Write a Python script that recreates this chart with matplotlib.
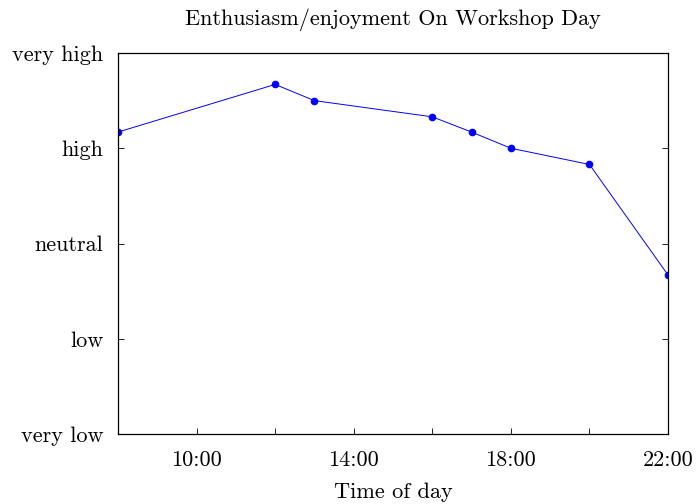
import numpy as np
import matplotlib
matplotlib.use("Agg")
import matplotlib.pyplot as plt

# hour of day vs how the day felt (0 = very low ... 4 = very high)
hours = [8, 12, 13, 16, 17, 18, 20, 22]
mood = [3.17, 3.67, 3.5, 3.33, 3.17, 3.0, 2.83, 1.67]

mood_levels = ["very low", "low", "neutral", "high", "very high"]
hour_ticks = [10, 12, 14, 16, 18, 20, 22]
hour_labels = ["10:00", "", "14:00", "", "18:00", "", "22:00"]

plt.rcParams["font.family"] = ["cmr10", "DejaVu Serif"]
plt.rcParams["axes.formatter.use_mathtext"] = True

fig = plt.figure(figsize=(6.96, 5.04), dpi=100)
ax = fig.add_axes([118 / 696, 1 - 434 / 504, 550 / 696, 381 / 504])

ax.plot(hours, mood, color="blue", lw=0.7, marker="o", ms=4.5)

ax.set_xlim(8, 22)
ax.set_ylim(0, 4)
ax.set_xticks(hour_ticks)
ax.set_xticklabels(hour_labels)
ax.set_yticks(range(len(mood_levels)))
ax.set_yticklabels(mood_levels)

ax.tick_params(axis="x", direction="in", length=4.5, width=0.6, top=False,
               labelsize=16, pad=12)
ax.tick_params(axis="y", direction="in", length=4.5, width=0.6, right=True,
               labelsize=16, pad=10.5)
for s in ax.spines.values():
    s.set_linewidth(0.9)

ax.set_title("Enthusiasm/enjoyment On Workshop Day", fontsize=16, pad=20)
ax.set_xlabel("Time of day", fontsize=16, labelpad=9)

fig.savefig("out.png", dpi=100)
